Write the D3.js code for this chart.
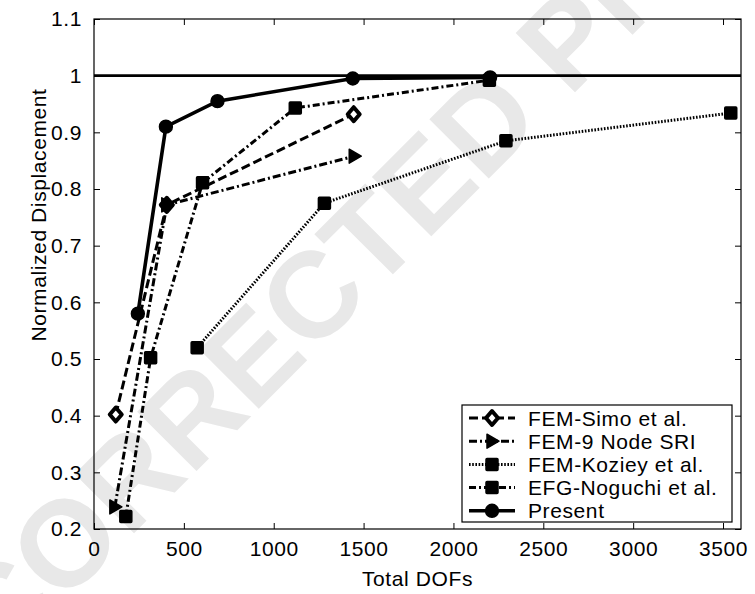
<!DOCTYPE html>
<html>
<head>
<meta charset="utf-8">
<script src="https://cdn.jsdelivr.net/npm/d3@7"></script>
<style>
    html, body { margin: 0; padding: 0; background: #fff; }
    svg { display: block; font-family: "Liberation Sans", Arial, Helvetica, sans-serif; }
    .tick text { font-size: 21px; letter-spacing: 0.6px; fill: #000; }
    .label { font-size: 21px; letter-spacing: 0.6px; }
</style>
</head>
<body>
<main><svg width="755" height="594"></svg></main>
<script>
// Values (x = total DOFs, y = normalized displacement)
const simoDofs = [121, 405, 1445];
const simoValues = [0.402, 0.772, 0.932];
const sriDofs = [116, 405, 1448];
const sriValues = [0.239, 0.772, 0.858];
const kozieyDofs = [574, 1282, 2292, 3543];
const kozieyValues = [0.52, 0.775, 0.885, 0.934];
const noguchiDofs = [177, 315, 604, 1120, 2200];
const noguchiValues = [0.222, 0.502, 0.811, 0.943, 0.992];
const presentDofs = [244, 400, 687, 1440, 2204];
const presentValues = [0.58, 0.91, 0.955, 0.995, 0.997];

const seriesNames = ["FEM-Simo et al.", "FEM-9 Node SRI", "FEM-Koziey et al.", "EFG-Noguchi et al.", "Present"];
const xTicks = [0, 500, 1000, 1500, 2000, 2500, 3000, 3500];
const yTicks = [0.2, 0.3, 0.4, 0.5, 0.6, 0.7, 0.8, 0.9, 1.0, 1.1];
const yTickLabels = ["0.2", "0.3", "0.4", "0.5", "0.6", "0.7", "0.8", "0.9", "1", "1.1"];
const referenceValue = 1;

const margin = { top: 19, right: 14, bottom: 65, left: 94 };
const svg = d3.select("main svg");
const width = +svg.attr("width") - margin.left - margin.right;
const height = +svg.attr("height") - margin.top - margin.bottom;

// watermark sits behind everything (it runs off the page in the original too)
svg.append("text")
    .attr("transform", "translate(345,262) rotate(-45)")
    .attr("text-anchor", "middle")
    .attr("dy", "0.35em")
    .style("font-size", "122px")
    .style("font-weight", "bold")
    .style("fill", "#e8e8e8")
    .text("UNCORRECTED PROOF");

const g = svg.append("g").attr("transform", `translate(${margin.left},${margin.top})`);

const x = d3.scaleLinear().domain([0, 3600]).range([0, width]);
const y = d3.scaleLinear().domain([0.2, 1.1]).range([height, 0]);

const tickLen = 6;
const fmtY = d => yTickLabels[yTicks.indexOf(d)];

g.append("g")
    .attr("transform", `translate(0,${height})`)
    .call(d3.axisBottom(x).tickValues(xTicks).tickFormat(d3.format("d")).tickSizeInner(-tickLen).tickSizeOuter(0).tickPadding(12));
g.append("g")
    .call(d3.axisLeft(y).tickValues(yTicks).tickFormat(fmtY).tickSizeInner(-tickLen).tickSizeOuter(0).tickPadding(12));
g.append("g")
    .call(d3.axisTop(x).tickValues(xTicks).tickFormat("").tickSizeInner(-tickLen).tickSizeOuter(0));
g.append("g")
    .attr("transform", `translate(${width},0)`)
    .call(d3.axisRight(y).tickValues(yTicks).tickFormat("").tickSizeInner(-tickLen).tickSizeOuter(0));

g.selectAll(".domain").remove();
g.selectAll(".tick line").attr("stroke", "#000");

g.append("rect")
    .attr("width", width)
    .attr("height", height)
    .attr("fill", "none")
    .attr("stroke", "#000")
    .attr("stroke-width", 1.2);

// axis titles
svg.append("text")
    .attr("class", "label")
    .attr("x", margin.left + width / 2)
    .attr("y", 586)
    .attr("text-anchor", "middle")
    .text("Total DOFs");
svg.append("text")
    .attr("class", "label")
    .attr("transform", "translate(46,215) rotate(-90)")
    .attr("text-anchor", "middle")
    .text("Normalized Displacement");

// exact solution line
g.append("line")
    .attr("x1", 0)
    .attr("x2", width)
    .attr("y1", y(referenceValue))
    .attr("y2", y(referenceValue))
    .attr("stroke", "#000")
    .attr("stroke-width", 2.6);

const zip = (xs, ys) => xs.map((d, i) => [d, ys[i]]);

const series = [
    { name: seriesNames[0], points: zip(simoDofs, simoValues), dash: "9,4", width: 3, marker: "diamond" },
    { name: seriesNames[1], points: zip(sriDofs, sriValues), dash: "8,3,2,3", width: 3, marker: "triangle" },
    { name: seriesNames[2], points: zip(kozieyDofs, kozieyValues), dash: "1.6,1.6", width: 3, marker: "square" },
    { name: seriesNames[3], points: zip(noguchiDofs, noguchiValues), dash: "7,3,2,3", width: 3, marker: "square" },
    { name: seriesNames[4], points: zip(presentDofs, presentValues), dash: null, width: 3.6, marker: "circle" },
];

const markerPath = type => {
    switch (type) {
        case "diamond":
            return "M0,-7L6,0L0,7L-6,0Z";
        case "triangle":
            return "M-5,-7L7,0L-5,7Z";
        case "square":
            return "M-5,-6H5Q6,-6 6,-5V5Q6,6 5,6H-5Q-6,6 -6,5V-5Q-6,-6 -5,-6Z";
        default:
            return d3.symbol(d3.symbolCircle, 130)();
    }
};

const line = d3.line().x(d => x(d[0])).y(d => y(d[1]));

const drawMarker = (sel, s) => {
    sel.append("path")
        .attr("d", markerPath(s.marker))
        .attr("fill", s.marker === "diamond" ? "#fff" : "#000")
        .attr("stroke", "#000")
        .attr("stroke-width", s.marker === "diamond" ? 4 : 1.5)
        .attr("stroke-linejoin", "round");
};

series.forEach(s => {
    g.append("path")
        .datum(s.points)
        .attr("d", line)
        .attr("fill", "none")
        .attr("stroke", "#000")
        .attr("stroke-width", s.width)
        .attr("stroke-dasharray", s.dash);
});

series.forEach(s => {
    s.points.forEach(p => {
        const m = g.append("g").attr("transform", `translate(${x(p[0])},${y(p[1])})`);
        drawMarker(m, s);
    });
});

// legend
const legend = svg.append("g").attr("transform", "translate(462,405)");
legend.append("rect")
    .attr("width", 270)
    .attr("height", 117)
    .attr("fill", "#fff")
    .attr("stroke", "#000")
    .attr("stroke-width", 1.2);

series.forEach((s, i) => {
    const row = legend.append("g").attr("transform", `translate(0,${13 + i * 23.2})`);
    row.append("line")
        .attr("x1", 7)
        .attr("x2", 53)
        .attr("stroke", "#000")
        .attr("stroke-width", s.width)
        .attr("stroke-dasharray", s.dash);
    const m = row.append("g").attr("transform", "translate(30,0)");
    drawMarker(m, s);
    row.append("text")
        .attr("class", "label")
        .attr("x", 66)
        .attr("dy", "0.36em")
        .text(s.name);
});
</script>
</body>
</html>
